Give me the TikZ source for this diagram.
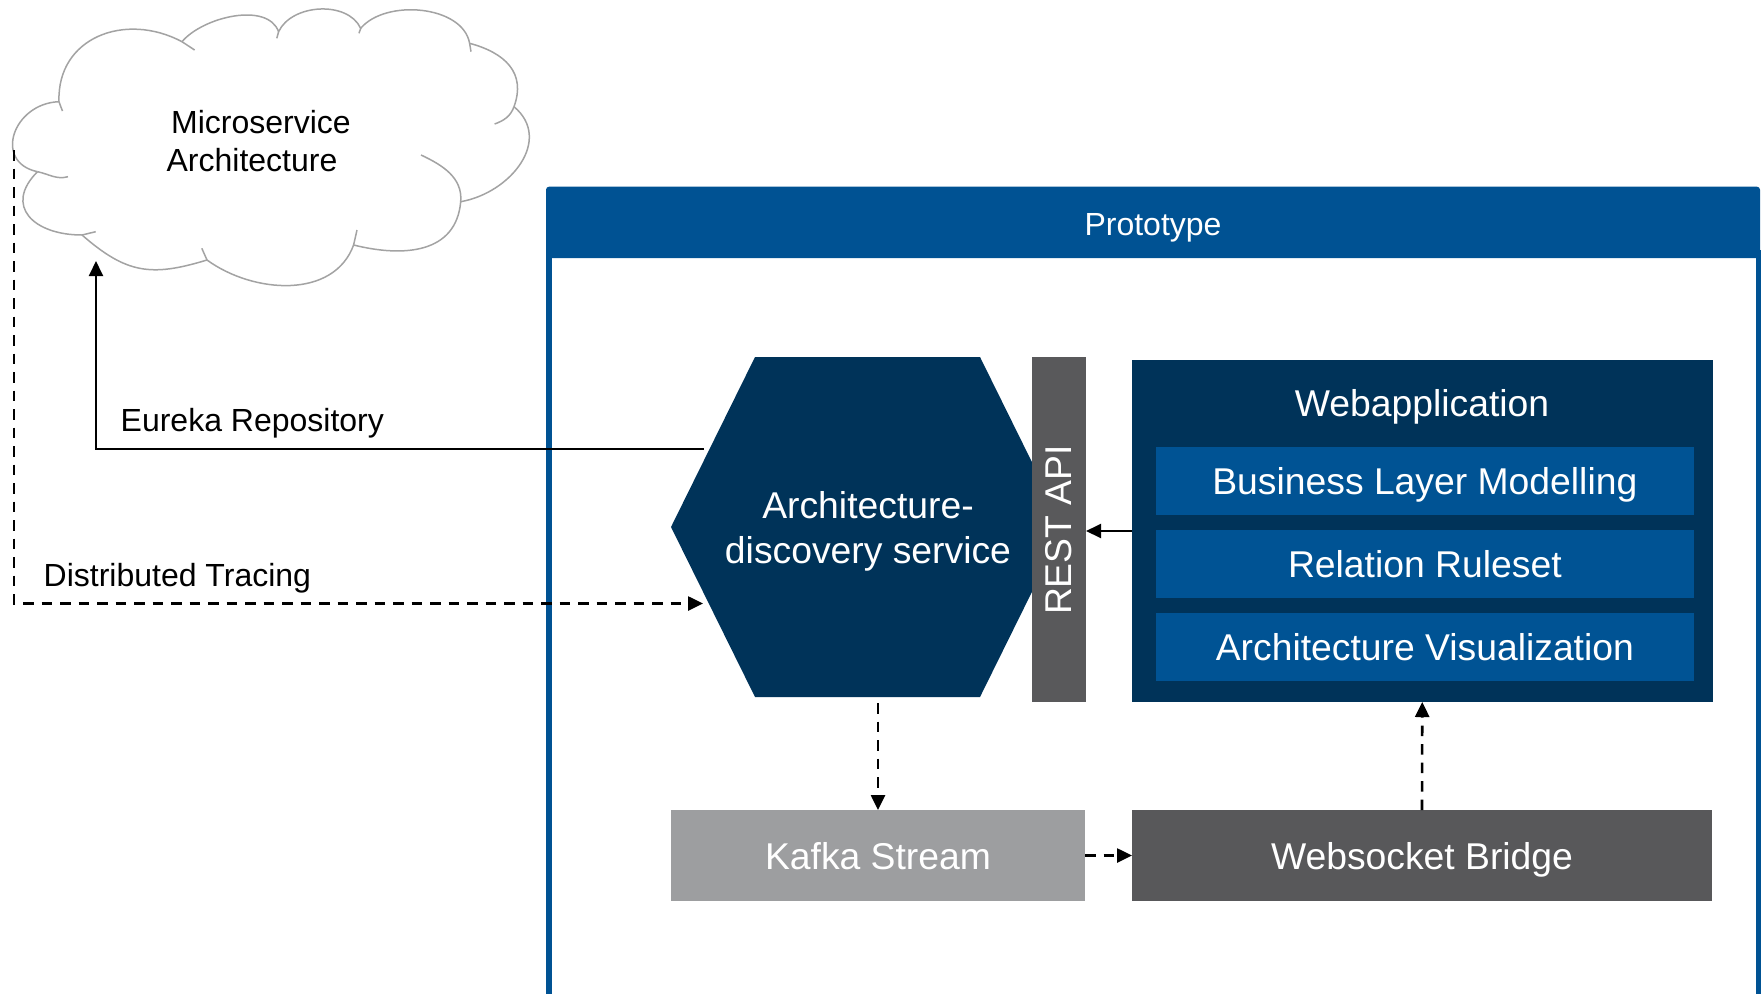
\documentclass[tikz,border=0pt]{standalone}
\usepackage{fontspec}
\setmainfont{Liberation Sans}
\usetikzlibrary{arrows.meta}

\definecolor{navy}{RGB}{0,51,89}
\definecolor{midblue}{RGB}{0,83,148}
\definecolor{frameblue}{RGB}{0,82,147}
\definecolor{restgray}{RGB}{89,89,91}
\definecolor{kafkagray}{RGB}{157,158,160}
\definecolor{bridgegray}{RGB}{88,88,90}
\definecolor{cloudline}{RGB}{163,163,163}

\begin{document}
\begin{tikzpicture}[x=1pt,y=1pt,
  bigfont/.style={font=\fontsize{37.3}{45}\selectfont},
  smallfont/.style={font=\fontsize{32}{37.7}\selectfont},
  wtxt/.style={bigfont, text=white, text height=27.5pt, text depth=0pt, inner sep=0pt},
  ktxt/.style={smallfont, text=black, inner sep=0pt},
  block/.style={inner sep=0pt, outer sep=0pt, draw=none},
  conn/.style={line width=2pt, -{Triangle[length=15pt,width=14pt]}},
  dconn/.style={conn, line width=2.6pt, dash pattern=on 10.5pt off 8pt},
  cloudstroke/.style={draw=cloudline, line width=1.5pt, line join=round}
]
\useasboundingbox (0,0) rectangle (1763,-994);

% ---------- Prototype container ----------
\node[block, fill=frameblue, minimum width=1214, minimum height=71.3,
      rounded corners=3pt, smallfont, text=white, text height=25.3pt, text depth=0pt]
      (proto) at (1153,-222.35) {Prototype};
\fill[frameblue] (546,-250) rectangle (552,-994);
\fill[frameblue] (1756,-250) rectangle (1760.5,-994);

% ---------- Cloud ----------
\coordinate (c0) at (37.5,-171.7);
\coordinate (c1) at (59,-101.7);
\coordinate (c2) at (182,-41.7);
\coordinate (c3) at (278.6,-31.7);
\coordinate (c4) at (360.7,-28.3);
\coordinate (c5) at (469.6,-43.3);
\coordinate (c6) at (514,-106.7);
\coordinate (c7) at (460.7,-201.7);
\coordinate (c8) at (353.6,-245);
\coordinate (c9) at (207,-260);
\coordinate (c10) at (82,-235);
\fill[white] (c0)
  to[out=168,in=182,looseness=1.6] (c1)
  to[out=92,in=152,looseness=1.2] (c2)
  to[out=50,in=110,looseness=0.85] (c3)
  to[out=65,in=115,looseness=0.96] (c4)
  to[out=50,in=100,looseness=0.9] (c5)
  to[out=-15,in=70,looseness=1.2] (c6)
  to[out=-40,in=10,looseness=1.2] (c7)
  to[out=-95,in=-14,looseness=1.15] (c8)
  to[out=-110,in=-36,looseness=1.0] (c9)
  to[out=-163,in=-41,looseness=1.18] (c10)
  to[out=180,in=225,looseness=1.6] (c0) -- cycle;
\draw[cloudstroke] (c0)
  to[out=168,in=182,looseness=1.6] (c1)
  to[out=92,in=152,looseness=1.2] (c2)
  to[out=50,in=110,looseness=0.85] (c3)
  to[out=65,in=115,looseness=0.96] (c4)
  to[out=50,in=100,looseness=0.9] (c5)
  to[out=-15,in=70,looseness=1.2] (c6)
  to[out=-40,in=10,looseness=1.2] (c7)
  to[out=-95,in=-14,looseness=1.15] (c8)
  to[out=-110,in=-36,looseness=1.0] (c9)
  to[out=-163,in=-41,looseness=1.18] (c10)
  to[out=180,in=225,looseness=1.6] (c0);
% inner curls of the cloud lobes
\draw[cloudstroke] (c0) to[out=-12,in=195] (68,-176.7);
\draw[cloudstroke] (c1) to[out=-88,in=95] (62.5,-111);
\draw[cloudstroke] (c2) -- (194.6,-50);
\draw[cloudstroke] (c3) -- (276.8,-38.3);
\draw[cloudstroke] (c4) -- (359,-33.3);
\draw[cloudstroke] (c5) -- (471,-51.7);
\draw[cloudstroke] (c6) to[out=-110,in=20] (494.6,-124);
\draw[cloudstroke] (421,-155) to[out=-25,in=85] (c7);
\draw[cloudstroke] (357,-230) -- (c8);
\draw[cloudstroke] (201.8,-248.3) -- (c9);
\draw[cloudstroke] (95.7,-231.7) -- (c10);
\node[ktxt, align=center] (cloudtxt) at (261,-141.2) {Microservice\\Architecture\hspace*{18pt}};

% ---------- Architecture-discovery service (hexagon) ----------
\fill[navy] (671,-527) -- (755,-357) -- (980,-357) -- (1064,-527)
  -- (980,-697) -- (755,-697) -- cycle;
\node[bigfont, text=white, align=center, inner sep=0pt] (disc) at (868,-531.5)
  {Architecture-\\discovery service};

% ---------- REST API bar ----------
\node[block, fill=restgray, minimum width=54, minimum height=345] (rest) at (1059,-529.5) {};
\node[wtxt, rotate=90] (resttxt) at (1058,-530) {REST API};

% ---------- Webapplication ----------
\node[block, fill=navy, minimum width=581.5, minimum height=342] (webapp) at (1422.25,-531) {};
\node[bigfont, text=white, inner sep=0pt, anchor=base] (webtitle) at (1422,-416.5) {Webapplication};
\node[block, wtxt, fill=midblue, minimum width=538.3, minimum height=67.7] (blm) at (1424.85,-480.85) {Business Layer Modelling};
\node[block, wtxt, fill=midblue, minimum width=538.3, minimum height=67.7] (rules) at (1424.85,-563.85) {Relation Ruleset};
\node[block, wtxt, fill=midblue, minimum width=538.3, minimum height=68] (vis) at (1424.85,-647) {Architecture Visualization};

% ---------- Streaming ----------
\node[block, wtxt, fill=kafkagray, minimum width=414, minimum height=91] (kafka) at (878,-855.5) {Kafka Stream};
\node[block, wtxt, fill=bridgegray, minimum width=580, minimum height=91] (bridge) at (1422,-855.5) {Websocket Bridge};

% ---------- Connectors ----------
\coordinate (hexEureka) at (704,-449);
\coordinate (hexTrace) at (703,-603.5);
\coordinate (hexBottom) at (878,-703);
\coordinate (cloudBottom) at (96,-261);
\coordinate (cloudLeft) at (14,-150);

\draw[conn] (hexEureka) -| (cloudBottom);
\draw[dconn] (cloudLeft) |- (hexTrace);
\draw[dconn] (hexBottom) -- (kafka.north);
\draw[dconn] (kafka.east) -- (bridge.west);
\draw[dconn] (bridge.north) -- (webapp.south);
\draw[conn] (webapp.west) -- (webapp.west -| rest.east);

% ---------- Connector labels ----------
\node[ktxt, anchor=base west] (eurekalbl) at (120.5,-431) {Eureka Repository};
\node[ktxt, anchor=base west] (tracelbl) at (43.5,-586) {Distributed Tracing};
\end{tikzpicture}
\end{document}
